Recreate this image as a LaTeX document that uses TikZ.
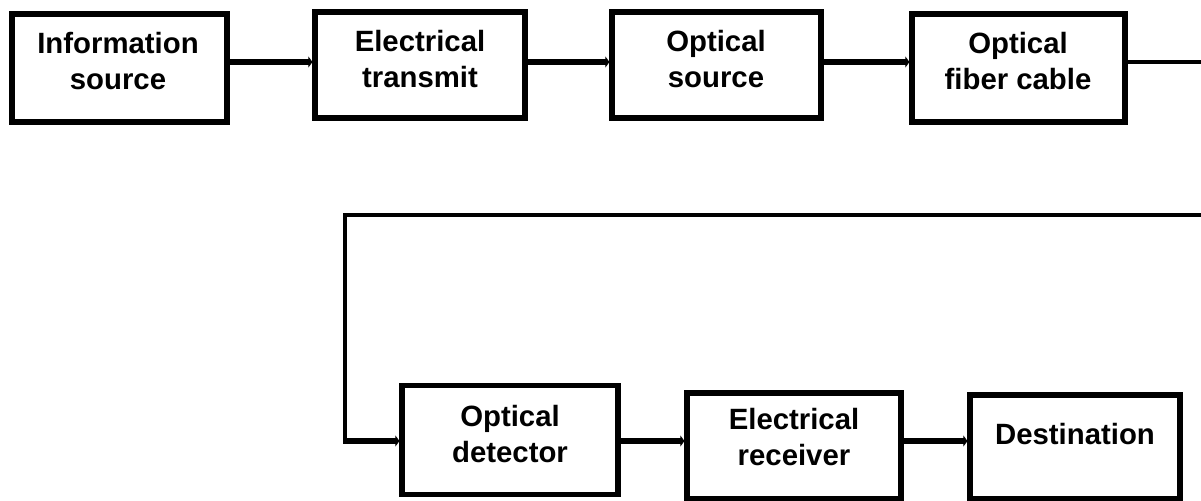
\documentclass[tikz,border=0pt]{standalone}
\usepackage{fontspec}
\setmainfont{Liberation Sans}
\usetikzlibrary{arrows.meta,calc}
\begin{document}
\begin{tikzpicture}[x=0.75pt,y=-0.75pt,
  blk/.style={draw=black,line width=3.8pt,fill=white,inner sep=0pt},
  lbl/.style={align=center,inner sep=0pt,font=\bfseries\fontsize{22}{27}\selectfont},
  conn/.style={line width=4.6pt,-{Triangle[length=3pt,width=8pt]}},
  thin/.style={line width=2.4pt}]
\useasboundingbox (0,0) rectangle (1201,500);
\clip (0,0) rectangle (1201,500);
% row coordinates
\coordinate (r1) at (0,62);
\coordinate (r2) at (0,441);
\coordinate (loopR) at (1210,62);
\coordinate (loopRB) at (1210,215);
\coordinate (loopL) at (345,215);
\coordinate (loopLB) at (345,441);
% boxes
\node[blk,minimum width=161.25pt,minimum height=81pt] (b1) at (119.5,68) {};
\node[blk,minimum width=157.5pt,minimum height=79.5pt] (b2) at (420,65) {};
\node[blk,minimum width=156.75pt,minimum height=79.5pt] (b3) at (716.5,65) {};
\node[blk,minimum width=159.75pt,minimum height=81pt] (b4) at (1018.5,68) {};
\node[blk,minimum width=162pt,minimum height=82pt] (b5) at (510,440) {};
\node[blk,minimum width=160.5pt,minimum height=79.5pt] (b6) at (794,446) {};
\node[blk,minimum width=157.5pt,minimum height=78pt] (b7) at (1075,447) {};
% labels
\node[lbl] (t1) at (118,61) {Information\\source};
\node[lbl] (t2) at (420,59) {Electrical\\transmit};
\node[lbl] (t3) at (716,59) {Optical\\source};
\node[lbl] (t4) at (1018,61) {Optical\\fiber cable};
\node[lbl] (t5) at (510,434) {Optical\\detector};
\node[lbl] (t6) at (794,437) {Electrical\\receiver};
\node[lbl] (t7) at (1075,434) {Destination};
% connectors
\draw[conn] (b1.east |- r1) -- (b2.west |- r1);
\draw[conn] (b2.east |- r1) -- (b3.west |- r1);
\draw[conn] (b3.east |- r1) -- (b4.west |- r1);
\draw[thin] (b4.east |- loopR) -- (loopR) -- (loopRB) -- (loopL) -- (loopLB);
\draw[conn] ([xshift=-1.2pt]loopLB) -- (b5.west |- r2);
\draw[conn] (b5.east |- r2) -- (b6.west |- r2);
\draw[conn] (b6.east |- r2) -- (b7.west |- r2);
\end{tikzpicture}
\end{document}
